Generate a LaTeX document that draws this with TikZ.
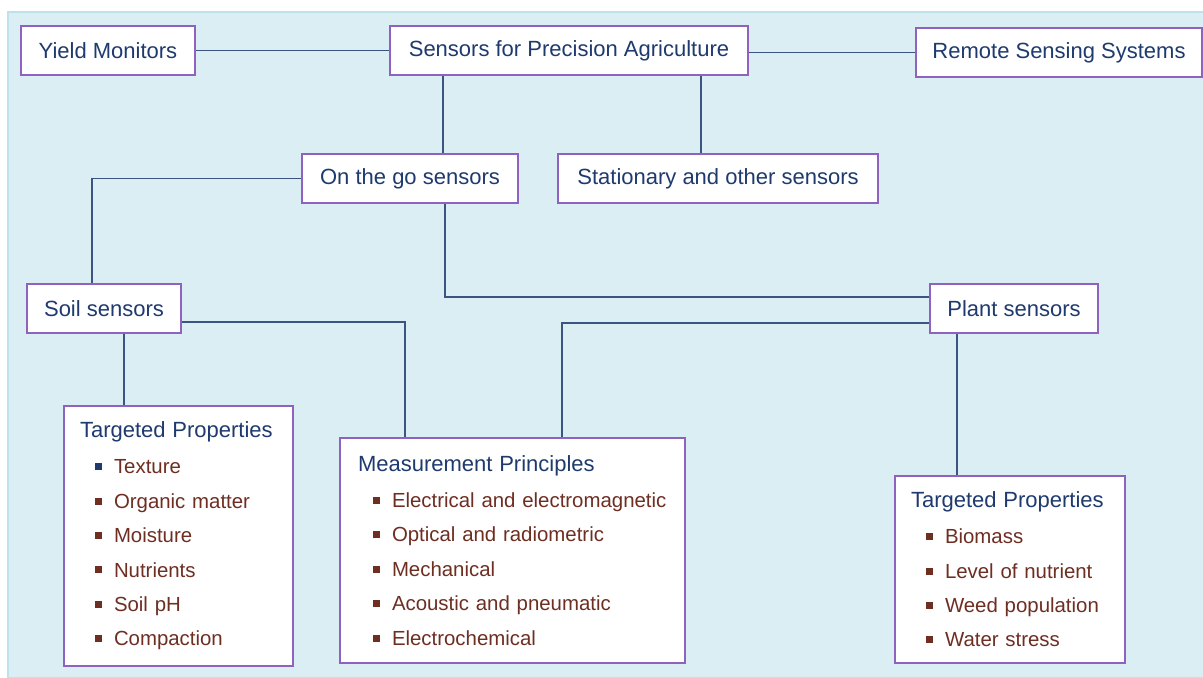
\documentclass[tikz,border=0pt]{standalone}
\usepackage{fontspec}
\setmainfont{Liberation Sans}
\usepackage{xcolor}
\usetikzlibrary{positioning}

\definecolor{panelblue}{HTML}{DBEEF4}
\definecolor{panelrule}{HTML}{BFE1EC}
\definecolor{boxpurple}{HTML}{9062C0}
\definecolor{linkblue}{HTML}{3A5580}
\definecolor{titlenavy}{HTML}{1E3A6E}
\definecolor{itembrown}{HTML}{6E2E22}

\newcommand{\listtitle}[1]{{\fontsize{11}{17.2}\selectfont #1}}
\newcommand{\propitem}[2][itembrown]{\hspace*{7.5pt}\textcolor{#1}{\rule[1.8pt]{3.5pt}{3.5pt}}\hspace{6pt}\textcolor{itembrown}{#2}}

\begin{document}
\begin{tikzpicture}[
    x=1pt, y=1pt,
    node distance=40pt,
    box/.style={rectangle, draw=boxpurple, line width=1pt, fill=white, minimum height=24.5pt, inner xsep=8pt, font=\fontsize{11}{13}\selectfont, text=titlenavy},
    listbox/.style={box, align=left, font=\fontsize{10.2}{17.2}\selectfont},
    link/.style={draw=linkblue, line width=0.9pt}
]

% Background panel
\useasboundingbox (0,0) rectangle (601.5,-338.5);
\draw[fill=panelblue, draw=panelrule, line width=0.75pt] (4,-6) rectangle (602,-339);

% Top row
\node[box, minimum width=179pt] (main) at (284.5,-25.25) {Sensors for Precision Agriculture};
\node[box, minimum width=87pt, left=96.5pt of main] (yield) {Yield Monitors};
\node[box, minimum width=143pt, right=83pt of main, yshift=-1pt] (remote) {Remote Sensing Systems};

% Sensor groups
\node[box, minimum width=108pt, below=38.5pt of main, xshift=-79.5pt] (ongo) {On the go sensors};
\node[box, minimum width=160pt, below=38.5pt of main, xshift=74.5pt] (stationary) {Stationary and other sensors};

% On the go sensors
\node[box, minimum width=77pt, below=39.5pt of ongo, xshift=-153pt] (soil) {Soil sensors};
\node[box, minimum width=84pt, below=39.5pt of ongo, xshift=302pt] (plant) {Plant sensors};

% Details
\node[listbox, text width=98.5pt, minimum height=130pt, below=35.5pt of soil, xshift=37.25pt] (soilprops) {
    \listtitle{Targeted Properties}\\[0.8pt]
    \propitem[titlenavy]{Texture}\\
    \propitem{Organic matter}\\
    \propitem{Moisture}\\
    \propitem{Nutrients}\\
    \propitem{Soil pH}\\
    \propitem{Compaction}
};
\node[listbox, text width=154.5pt, inner xsep=9pt, minimum height=112.5pt, below=51.5pt of soil, xshift=204.25pt] (principles) {
    \listtitle{Measurement Principles}\\[0.8pt]
    \propitem{Electrical and electromagnetic}\\
    \propitem{Optical and radiometric}\\
    \propitem{Mechanical}\\
    \propitem{Acoustic and pneumatic}\\
    \propitem{Electrochemical}
};
\node[listbox, text width=99pt, minimum height=93.5pt, below=70.5pt of plant, xshift=-2pt] (plantprops) {
    \listtitle{Targeted Properties}\\[0.8pt]
    \propitem{Biomass}\\
    \propitem{Level of nutrient}\\
    \propitem{Weed population}\\
    \propitem{Water stress}
};

% Connectors
\draw[link] (yield) -- (main);
\draw[link] (main.east |- remote) -- (remote);
\draw[link] ([xshift=-63pt]main.south) -- ([xshift=-63pt]main.south |- ongo.north);
\draw[link] ([xshift=66pt]main.south) -- ([xshift=66pt]main.south |- stationary.north);
\draw[link] (ongo.west) -| ([xshift=-6pt]soil.north);
\draw[link] ([xshift=17.5pt]ongo.south) |- ([yshift=5.75pt]plant.west);
\draw[link] ([yshift=-6.75pt]soil.east) -| ([xshift=-53.75pt]principles.north);
\draw[link] ([xshift=10pt]soil.south) -- ([xshift=10pt]soil.south |- soilprops.north);
\draw[link] ([yshift=-7.25pt]plant.west) -| ([xshift=24.75pt]principles.north);
\draw[link] ([xshift=-28.5pt]plant.south) -- ([xshift=-28.5pt]plant.south |- plantprops.north);

\end{tikzpicture}
\end{document}
